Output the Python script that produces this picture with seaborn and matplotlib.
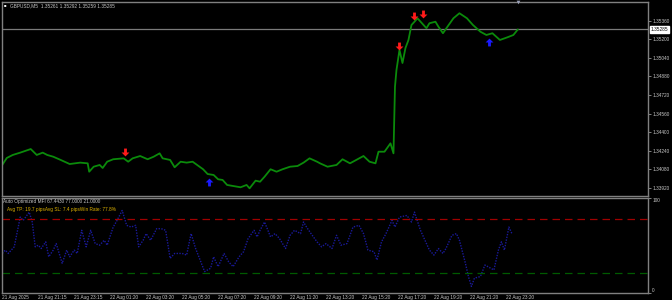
import numpy as np
import pandas as pd
import matplotlib
matplotlib.use("Agg")
import matplotlib.pyplot as plt
import seaborn as sns

# ---------------- data ----------------
price_bar = [0, 3, 7, 12, 19, 23, 27, 30, 34, 39, 45, 52, 57, 58, 61, 65, 67, 70, 74, 81,
             84, 87, 92, 97, 101, 105, 107, 112, 115, 119, 123, 127, 130, 134, 137, 141,
             144, 147, 150, 154, 159, 163, 165, 169, 172, 175, 179, 183, 187, 192, 197,
             201, 205, 210, 212, 217, 223, 227, 232, 237, 241, 245, 249, 251, 255, 259,
             261, 262, 263, 265, 267, 269, 271, 273, 275, 277, 280, 283, 285, 289, 291,
             294, 297, 301, 305, 310, 314, 319, 323, 327, 332, 337, 341, 344]
price_val = [1.34119, 1.34179, 1.34205, 1.34225, 1.34256, 1.34205, 1.34225, 1.34205,
             1.34190, 1.34162, 1.34127, 1.34139, 1.34133, 1.34061, 1.34104, 1.34119,
             1.34093, 1.34147, 1.34168, 1.34176, 1.34147, 1.34176, 1.34196, 1.34168,
             1.34190, 1.34219, 1.34176, 1.34162, 1.34099, 1.34147, 1.34139, 1.34147,
             1.34119, 1.34082, 1.34041, 1.34033, 1.33996, 1.33990, 1.33947, 1.33938,
             1.33927, 1.33947, 1.33918, 1.33984, 1.33975, 1.34018, 1.34082, 1.34061,
             1.34082, 1.34104, 1.34110, 1.34139, 1.34176, 1.34147, 1.34133, 1.34104,
             1.34119, 1.34168, 1.34133, 1.34168, 1.34196, 1.34147, 1.34133, 1.34233,
             1.34233, 1.34305, 1.34219, 1.34792, 1.34936, 1.35108, 1.34996, 1.35125,
             1.35194, 1.35323, 1.35351, 1.35381, 1.35338, 1.35295, 1.35338, 1.35351,
             1.35308, 1.35252, 1.35308, 1.35381, 1.35424, 1.35381, 1.35323, 1.35265,
             1.35237, 1.35252, 1.35194, 1.35217, 1.35237, 1.35285]

sell_bar = [82, 265, 275, 281]
sell_val = [1.34230, 1.35142, 1.35400, 1.35418]
buy_bar = [138, 325]
buy_val = [1.33972, 1.35177]

mfi_bar = [0, 2, 4, 8, 10, 12, 14, 18, 20, 22, 24, 26, 29, 31, 34, 36, 40, 43, 45, 48,
           50, 53, 56, 59, 62, 65, 68, 70, 74, 76, 80, 83, 86, 89, 91, 94, 96, 99, 103,
           106, 109, 112, 115, 120, 123, 126, 129, 132, 135, 139, 141, 144, 148, 151,
           154, 158, 161, 164, 168, 170, 172, 175, 179, 182, 185, 189, 192, 195, 199,
           201, 203, 206, 210, 213, 216, 220, 223, 226, 230, 232, 234, 238, 241, 244,
           248, 250, 253, 256, 260, 262, 265, 270, 273, 275, 279, 282, 285, 288, 291,
           294, 296, 300, 303, 305, 309, 311, 313, 315, 319, 322, 324, 328, 331, 333,
           335, 338, 340]
mfi_val = [41.1, 44.6, 41.1, 48.1, 63.7, 79.4, 75.9, 84.6, 74.2, 48.1, 49.8, 46.3, 53.3,
           37.6, 44.6, 51.5, 30.7, 44.6, 37.6, 44.6, 41.1, 65.5, 48.1, 65.5, 51.5, 49.8,
           55.0, 49.8, 68.9, 74.2, 86.3, 70.7, 68.9, 70.7, 48.1, 55.0, 62.0, 55.0, 67.2,
           67.2, 65.5, 35.9, 41.1, 41.1, 39.4, 62.0, 46.3, 34.2, 22.0, 25.5, 37.6, 27.2,
           41.1, 32.4, 27.2, 37.6, 42.9, 56.7, 65.5, 58.5, 65.5, 74.2, 58.5, 62.0, 56.7,
           46.3, 60.2, 65.5, 62.0, 74.2, 68.9, 62.0, 53.3, 48.1, 51.5, 46.3, 60.2, 49.8,
           51.5, 60.2, 68.9, 70.7, 62.0, 44.6, 42.9, 34.2, 53.3, 62.0, 75.9, 68.9, 79.4,
           81.1, 74.2, 84.6, 65.5, 55.0, 44.6, 39.4, 46.3, 41.1, 46.3, 60.2, 62.0, 55.0,
           30.7, 16.8, 6.4, 15.1, 16.8, 28.9, 27.2, 23.7, 44.6, 53.3, 44.6, 68.9, 62.0]

upper_level = 77.0
lower_level = 21.0
current_price = 1.35285

main_ticks = [1.33920, 1.34080, 1.34240, 1.34400, 1.34560, 1.34720, 1.34880,
              1.35040, 1.35200, 1.35360]
time_tick_bars = [0, 24, 48, 72, 96, 120, 144, 168, 192, 216, 240, 264, 288, 312, 336]
time_labels = ["21 Aug 2025", "21 Aug 21:15", "21 Aug 23:15", "22 Aug 01:20",
               "22 Aug 03:20", "22 Aug 05:20", "22 Aug 07:20", "22 Aug 09:20",
               "22 Aug 11:20", "22 Aug 13:20", "22 Aug 15:20", "22 Aug 17:20",
               "22 Aug 19:20", "22 Aug 21:20", "22 Aug 23:20"]

title_text = "GBPUSD,M5  1.35261 1.35292 1.35259 1.35285"
ind_title = "Auto Optimized MFI 67.4430 77.0000 21.0000"
ind_stats = "Avg TP: 19.7 pipsAvg SL: 7.4 pipsWin Rate: 77.8%"

# ---------------- style ----------------
sns.set_style("dark")
plt.rcParams['font.family'] = ['Liberation Sans', 'DejaVu Sans']
FS = 3.4
TXT = '#c8c8c8'
GRID = '#808080'

W, H = 672, 300
fig = plt.figure(figsize=(6.72, 3.0), dpi=100, facecolor='black')
L, R = 1.5, 648.3
ax1 = fig.add_axes([L / W, 1 - 196 / H, (R - L) / W, (196 - 1.5) / H])
ax2 = fig.add_axes([L / W, 1 - 292.5 / H, (R - L) / W, (292.5 - 197.5) / H])

for ax in (ax1, ax2):
    ax.set_facecolor('black')
    ax.grid(False)
    for s in ax.spines.values():
        s.set_color(GRID)
        s.set_linewidth(1.0)
        s.set_visible(True)
    ax.set_xlim(-0.5, 431)

# ---- main pane ----
dfp = pd.DataFrame({'bar': price_bar, 'price': price_val})
sns.lineplot(data=dfp, x='bar', y='price', ax=ax1, color='#0b8a0b', lw=1.3,
             legend=False)
ax1.axhline(current_price, color='#7a7a7a', lw=0.9, zorder=1)

down = [(-0.18, 0.5), (0.18, 0.5), (0.18, 0.0), (0.5, 0.0), (0.0, -0.5), (-0.5, 0.0),
        (-0.18, 0.0), (-0.18, 0.5)]
up = [(x, -y) for x, y in down]
sns.scatterplot(x=sell_bar, y=sell_val, ax=ax1, marker=down, color='#ff1a1a', s=32,
                linewidth=0, zorder=5, legend=False)
sns.scatterplot(x=buy_bar, y=buy_val, ax=ax1, marker=up, color='#1a1aff', s=32,
                linewidth=0, zorder=5, legend=False)

ax1.set_ylim(1.33852, 1.35525)
ax1.yaxis.tick_right()
ax1.set_yticks(main_ticks)
ax1.set_yticklabels([f"{v:.5f}" for v in main_ticks])
ax1.tick_params(axis='y', colors=GRID, labelcolor=TXT, labelsize=FS, length=1.8,
                width=0.7, pad=1.0, direction='out')
ax1.set_xticks([])
ax1.set_xlabel('')
ax1.set_ylabel('')

# current price box
ax1.annotate(f"{current_price:.5f}", xy=(1.0, current_price),
             xycoords=('axes fraction', 'data'), xytext=(1.5, 0),
             textcoords='offset points', va='center', ha='left', fontsize=FS,
             color='black', annotation_clip=False,
             bbox=dict(boxstyle='square,pad=0.15', fc='white', ec='white'))

# shift marker at top
ax1.scatter([344], [1.35525], marker='v', s=7, color='#9aa0b8', clip_on=False,
            zorder=6, linewidths=0)

# title
fig.text(4 / W, 1 - 5.5 / H, "\u25a0", color='white', fontsize=3.0, va='center',
         ha='left')
fig.text(10 / W, 1 - 5.5 / H, title_text, color=TXT, fontsize=FS, va='center',
         ha='left')

# ---- indicator pane ----
dfm = pd.DataFrame({'bar': mfi_bar, 'mfi': mfi_val})
sns.lineplot(data=dfm, x='bar', y='mfi', ax=ax2, color='#1a1a9a', lw=1.0,
             linestyle=(0, (1, 1)), legend=False)
ax2.axhline(upper_level, color='#a00000', lw=0.9, dashes=(6, 4))
ax2.axhline(lower_level, color='#005a00', lw=0.9, dashes=(6, 4))
ax2.set_ylim(0, 100)
ax2.yaxis.tick_right()
ax2.set_yticks([0, 100])
ax2.set_yticklabels(['0', '100'])
ax2.tick_params(axis='y', colors=GRID, labelcolor=TXT, labelsize=FS, length=1.8,
                width=0.7, pad=1.0)
yl = ax2.get_yticklabels()
yl[0].set_va('bottom')
yl[1].set_va('top')

ax2.set_xticks(time_tick_bars)
ax2.set_xticklabels(time_labels)
ax2.tick_params(axis='x', colors=GRID, labelcolor=TXT, labelsize=FS, length=1.4,
                width=0.7, pad=0.1)
for t in ax2.get_xticklabels():
    t.set_ha('left')
ax2.set_xlabel('')
ax2.set_ylabel('')

ax2.text(0.003, 0.985, ind_title, transform=ax2.transAxes, color=TXT, fontsize=FS,
         va='top', ha='left')
ax2.text(0.009, 0.905, ind_stats, transform=ax2.transAxes, color='#e0b400',
         fontsize=FS, va='top', ha='left')

fig.savefig('out.png', dpi=100, facecolor='black')
